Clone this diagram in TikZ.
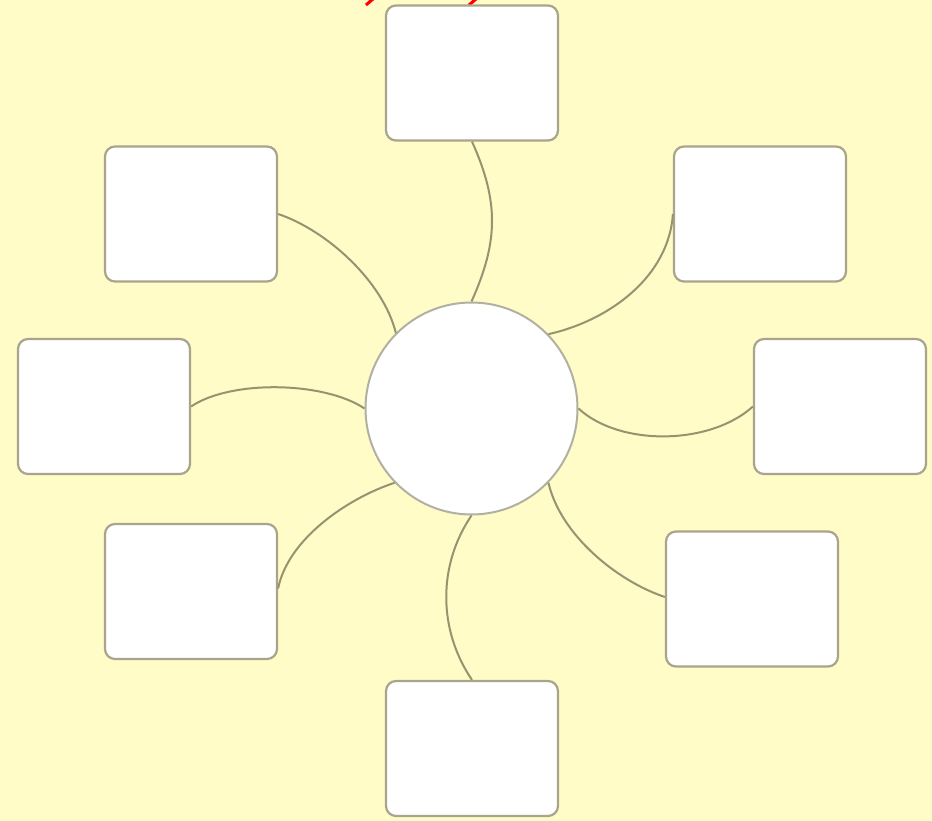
\documentclass[tikz,border=0pt]{standalone}
\begin{document}
\begin{tikzpicture}[x=1pt,y=-1pt,
  bg/.style={fill={rgb,255:red,255;green,252;blue,200}},
  leaf/.style={draw={rgb,255:red,168;green,165;blue,140}, line width=2.2pt, fill=white,
    rounded corners=10pt, minimum width=172pt, minimum height=135pt, inner sep=0pt},
  hub/.style={circle, draw={rgb,255:red,178;green,176;blue,160}, line width=2pt, fill=white,
    minimum size=212pt, inner sep=0pt},
  link/.style={draw={rgb,255:red,150;green,148;blue,112}, line width=2pt},
  redfrag/.style={draw=red, line width=3pt}
]
\fill[bg] (0,0) rectangle (932,821);
\useasboundingbox (0,0) rectangle (932,821);
% cut-off red title fragments
\coordinate (r1a) at (373,-1);
\coordinate (r1b) at (366,5);
\coordinate (r2a) at (476,-1);
\coordinate (r2b) at (469,5);
\draw[redfrag] (r1a) -- (r1b);
\draw[redfrag] (r2a) -- (r2b);

\node[hub] (c) at (471.5,408.5) {};
\node[leaf] (top) at (472,73) {};
\node[leaf] (ul) at (191,214) {};
\node[leaf] (ur) at (760,214) {};
\node[leaf] (lf) at (104,406.5) {};
\node[leaf] (rt) at (840,406.5) {};
\node[leaf] (ll) at (191,591.5) {};
\node[leaf] (lr) at (752,599) {};
\node[leaf] (bot) at (472,748.5) {};

\draw[link] (top.south) .. controls +(27,60) and +(27,-60) .. (c.90);
\draw[link] (bot.north) .. controls +(-34,-50) and +(-34,50) .. (c.270);
\draw[link] (ul.east) .. controls +(48,16) and +(-13,-52) .. (c.135);
\draw[link] (ur.west) .. controls +(-4,62) and +(62,-14) .. (c.44);
\draw[link] ([yshift=3pt]ll.east) .. controls +(10,-50) and +(-46,15) .. (c.224);
\draw[link] ([yshift=2pt]lr.west) .. controls +(-48,-16) and +(12,52) .. (c.316);
\draw[link] (lf.east) .. controls +(40,-27) and +(-40,-27) .. (c.180);
\draw[link] (c.0) .. controls +(41,38) and +(-43,39) .. (rt.west);
\end{tikzpicture}
\end{document}
